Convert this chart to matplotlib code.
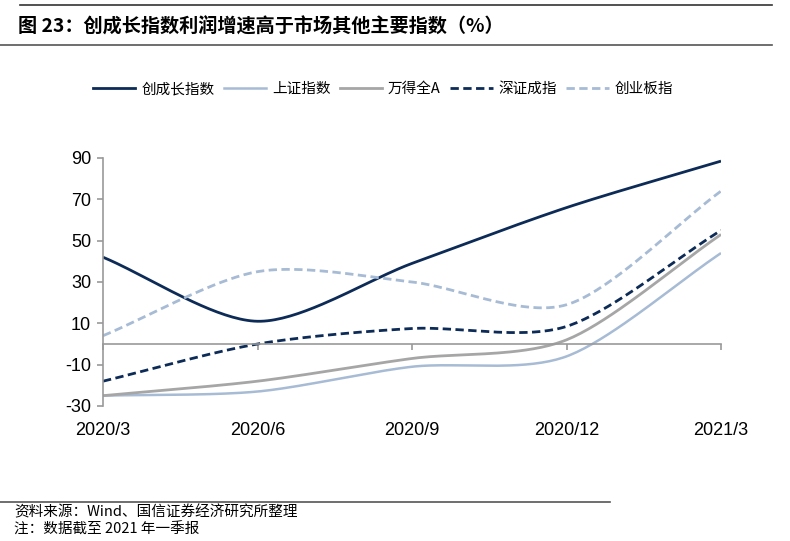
import numpy as np
import matplotlib
matplotlib.use("Agg")
import matplotlib.pyplot as plt
from matplotlib.lines import Line2D

plt.rcParams['font.family'] = ['Noto Sans CJK SC', 'DejaVu Sans']

categories = ["2020/3", "2020/6", "2020/9", "2020/12", "2021/3"]
cyb_growth = [42, 11, 39, 66, 88.5]      # 创成长指数
sh_index = [-25, -23, -11, -6, 44]       # 上证指数
wind_a = [-25, -18, -7, 2, 53]           # 万得全A
sz_index = [-18, 0, 7.5, 8.5, 55]        # 深证成指
cyb_board = [4, 35, 30, 19, 74]          # 创业板指
yticks = [-30, -10, 10, 30, 50, 70, 90]

series = [
    ("创成长指数", cyb_growth, "#0D2B57", "-", 2.0),
    ("上证指数", sh_index, "#A7BBD5", "-", 1.8),
    ("万得全A", wind_a, "#A6A6A6", "-", 2.0),
    ("深证成指", sz_index, "#0D2B57", (0, (3, 1.6)), 2.0),
    ("创业板指", cyb_board, "#A7BBD5", (0, (3, 1.6)), 2.0),
]


def smooth(xs, ys, n=40, k=0.85):
    # Cardinal-spline smoothing (similar to Excel smoothed lines)
    xs = np.asarray(xs, float)
    ys = np.asarray(ys, float)
    px = np.concatenate([[2 * xs[0] - xs[1]], xs, [2 * xs[-1] - xs[-2]]])
    py = np.concatenate([[2 * ys[0] - ys[1]], ys, [2 * ys[-1] - ys[-2]]])
    ox, oy = [], []
    for i in range(1, len(px) - 2):
        t = np.linspace(0, 1, n, endpoint=(i == len(px) - 3))
        for arr, out in ((px, ox), (py, oy)):
            p0, p1, p2, p3 = arr[i - 1], arr[i], arr[i + 1], arr[i + 2]
            b1 = p1 + k * (p2 - p0) / 6
            b2 = p2 - k * (p3 - p1) / 6
            out.extend((1 - t) ** 3 * p1 + 3 * (1 - t) ** 2 * t * b1
                       + 3 * (1 - t) * t ** 2 * b2 + t ** 3 * p2)
    return np.array(ox), np.array(oy)


fig = plt.figure(figsize=(7.9, 5.41), dpi=100)
ax = fig.add_axes([103 / 790, 1 - 406 / 541, (721 - 103) / 790, (406 - 158) / 541])

for s in ['top', 'right']:
    ax.spines[s].set_visible(False)
ax.spines['left'].set_color('#999999')
ax.spines['left'].set_linewidth(1.2)
ax.spines['bottom'].set_position(('data', 0))
ax.spines['bottom'].set_color('#999999')
ax.spines['bottom'].set_linewidth(1.2)

x = np.arange(len(categories))
handles = []
for name, vals, color, ls, lw in series:
    sx, sy = smooth(x, vals)
    ax.plot(sx, sy, color=color, linestyle=ls, linewidth=lw, solid_capstyle='butt')
    handles.append(Line2D([], [], color=color, linestyle=ls, linewidth=lw, label=name))

ax.set_xlim(0, len(categories) - 1)
ax.set_ylim(-30, 90)
ax.set_yticks(yticks)
ax.set_yticklabels([str(v) for v in yticks], fontsize=13, fontfamily='Liberation Sans')
ax.set_xticks(x)
ax.set_xticklabels(categories, fontsize=13, fontfamily='Liberation Sans')

ax.tick_params(axis='y', direction='out', length=4.5, width=1.2, color='#999999', pad=4)
ax.tick_params(axis='x', direction='out', length=4.5, width=1.2, color='#999999', pad=52)
ax.patch.set_alpha(0)

fig.legend(handles=handles, loc='center', bbox_to_anchor=(383 / 790, 1 - 89 / 541), ncol=5,
           frameon=False, fontsize=10.5, handlelength=2.9, columnspacing=0.65, handletextpad=0.4)

# title and rules
fig.add_artist(Line2D([20 / 790, 772 / 790], [1 - 5 / 541, 1 - 5 / 541], color='#333333', lw=1.2))
fig.add_artist(Line2D([0 / 790, 772 / 790], [1 - 45 / 541, 1 - 45 / 541], color='#555555', lw=1.2))
fig.text(18 / 790, 1 - 27 / 541, "图 23：创成长指数利润增速高于市场其他主要指数（%）",
         fontsize=13.8, fontweight='bold', va='center', ha='left')

fig.add_artist(Line2D([0 / 790, 610 / 790], [1 - 502 / 541, 1 - 502 / 541], color='#555555', lw=1.2))
fig.text(14 / 790, 1 - 512 / 541, "资料来源：Wind、国信证券经济研究所整理", fontsize=10.5,
         va='center', ha='left')
fig.text(14 / 790, 1 - 530 / 541, "注：数据截至 2021 年一季报", fontsize=10.5,
         va='center', ha='left')

fig.savefig("out.png", dpi=100)
